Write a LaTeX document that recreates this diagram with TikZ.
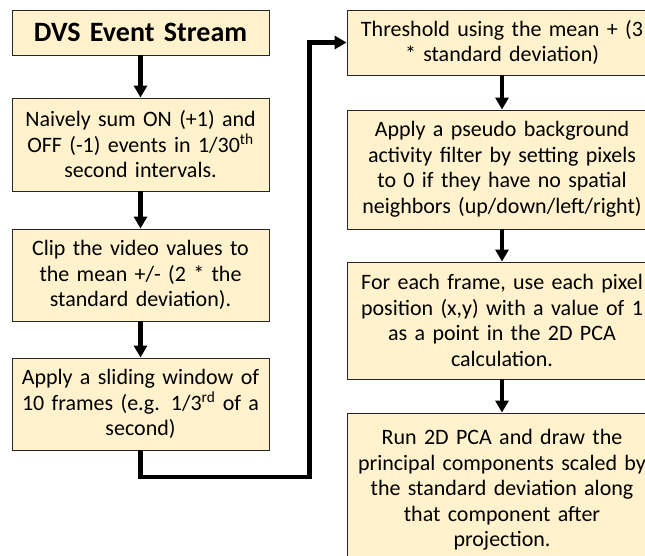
\documentclass[tikz,border=0pt]{standalone}
\usepackage{fontspec}
\setmainfont{Carlito}
\usepackage{tikz}
\usetikzlibrary{arrows.meta, positioning}

\definecolor{boxfill}{HTML}{FFF2CC}

\begin{document}
\begin{tikzpicture}[
  x=1pt, y=1pt,
  every node/.style = {font=\fontsize{22}{25.5}\selectfont},
  leftbox/.style  = {rectangle, draw=black!85, line width=0.9pt,
                     fill=boxfill, inner xsep=4pt, inner ysep=0pt,
                     text width=249pt, minimum height=#1,
                     align=center},
  rightbox/.style = {rectangle, draw=black!85, line width=0.9pt,
                     fill=boxfill, inner xsep=4pt, inner ysep=0pt,
                     text width=302pt, minimum height=#1,
                     align=center},
  arr/.style = {-{Triangle[length=12pt, width=13pt]}, line width=4.5pt,
                black, line join=miter},
]

\clip (0,0) rectangle (645,-556);

%% ── Left column ──────────────────────────────────────────────────────────
\node[leftbox=45pt, font=\fontsize{28}{32}\selectfont\bfseries]
  at (140.5, -32.5) (dvs) {DVS Event Stream};
\node[leftbox=93pt] at (140.5, -144.5) (naive) {
  Naively sum ON (+1) and\\
  OFF (-1) events in 1/30\textsuperscript{th}\\
  second intervals.
};
\node[leftbox=92pt] at (140.5, -275) (clip) {
  Clip the video values to\\
  the mean +/- (2 * the\\
  standard deviation).
};
\node[leftbox=92pt] at (140.5, -404) (slide) {
  Apply a sliding window of\\
  10 frames (e.g. 1/3\textsuperscript{rd} of a\\
  second)
};

%% ── Right column ─────────────────────────────────────────────────────────
\node[rightbox=65pt] at (502, -42.5) (thresh) {
  Threshold using the mean + (3\\{}
  * standard deviation)
};
\node[rightbox=119pt] at (502, -169.5) (bafilter) {
  Apply a pseudo background\\
  activity filter by setting pixels\\
  to 0 if they have no spatial\\
  neighbors (up/down/left/right)
};
\node[rightbox=117pt] at (502, -320.5) (pcapts) {
  For each frame, use each pixel\\
  position (x,y) with a value of 1\\
  as a point in the 2D PCA\\
  calculation.
};
\node[rightbox=154pt] at (502, -490) (pcarun) {
  Run 2D PCA and draw the\\
  principal components scaled by\\
  the standard deviation along\\
  that component after\\
  projection.
};

%% ── Arrows ───────────────────────────────────────────────────────────────
\draw[arr] (dvs)   -- (naive);
\draw[arr] (naive) -- (clip);
\draw[arr] (clip)  -- (slide);

\coordinate (turn) at (309.5, -477);
\draw[arr] (slide.south) |- (turn) |- (thresh.west);

\draw[arr] (thresh)   -- (bafilter);
\draw[arr] (bafilter) -- (pcapts);
\draw[arr] (pcapts)   -- (pcarun);

\end{tikzpicture}
\end{document}
